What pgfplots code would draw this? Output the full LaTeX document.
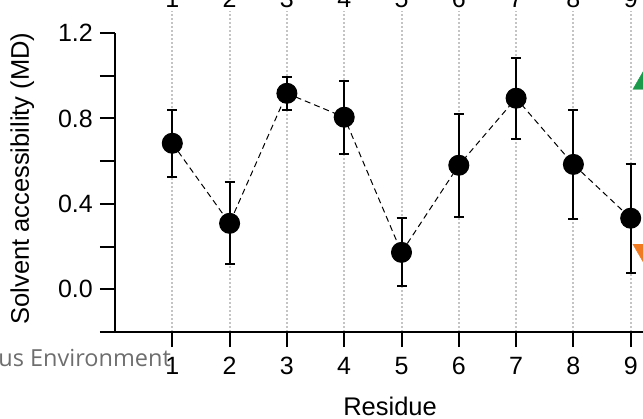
\documentclass[border=0pt]{standalone}
\usepackage{fontspec}
\setmainfont{Liberation Sans}
\newfontfamily\osans{Open Sans}
\usepackage{pgfplots}
\usepackage{pgfplotstable}
\pgfplotsset{compat=1.18}
\definecolor{accgreen}{HTML}{1A9A4A}
\definecolor{accorange}{HTML}{F07A22}
\definecolor{envgray}{HTML}{6E6E6E}
\definecolor{gridgray}{HTML}{C4C4C4}

% residue, mean solvent accessibility, error
\pgfplotstableread{
res val err
1 0.684 0.156
2 0.309 0.192
3 0.918 0.078
4 0.806 0.171
5 0.173 0.159
6 0.581 0.241
7 0.895 0.190
8 0.585 0.255
9 0.333 0.256
}\mddata

\pgfplotsset{
  mdgeom/.style={
    at={(115pt,86pt)}, anchor=south west,
    x=57.3pt, y=213.5pt,
    xmin=0, xmax=10, ymin=-0.2, ymax=1.303,
    clip=false,
    /pgf/number format/assume math mode=true,
    tick label style={font=\fontsize{25}{30}\selectfont},
  }
}

\begin{document}
\begin{tikzpicture}
\useasboundingbox (0,0) rectangle (643pt,418pt);
\clip (0,0) rectangle (643pt,418pt);
\begin{axis}[
  mdgeom,
  axis x line*=bottom, axis y line*=left,
  axis line style={draw=none},
  tick align=outside,
  major tick length=15pt,
  tick style={black, line width=2pt},
  xtick={1,...,9},
  xticklabels={1,2,3,4,5,6,7,8,9},
  ytick={-0.2,0,0.2,0.4,0.6,0.8,1.0,1.2},
  yticklabels={,0.0,,0.4,,0.8,,1.2},
  xmajorgrids,
  major grid style={gridgray, dash pattern=on 2pt off 2pt, line width=2pt},
  xticklabel style={inner sep=0pt, yshift=-10pt},
  yticklabel style={inner sep=0pt, xshift=-7pt},
  xlabel={Residue},
  ylabel={Solvent accessibility (MD)},
  every axis x label/.style={at={(axis description cs:0.48,-0.261)}, anchor=base,
    font=\fontsize{25.5}{30}\selectfont},
  every axis y label/.style={at={(axis description cs:-0.162,0.478)}, rotate=90, anchor=center,
    font=\fontsize{25.5}{30}\selectfont},
]
\draw[black, line width=2pt] (axis cs:0,-0.2) -- (axis cs:0,1.2);
\draw[black, line width=2pt] (axis cs:0,-0.2) -- (axis cs:10,-0.2);
\addplot[black, line width=1pt, dash pattern=on 6pt off 4pt,
  mark=*, mark size=10pt, mark options={solid},
  error bars/.cd, y dir=both, y explicit,
  error bar style={solid, line width=2pt},
  error mark options={rotate=90, mark size=5pt, line width=2pt, solid}]
  table[x=res, y=val, y error=err] {\mddata};
\addplot[only marks, mark=triangle*, mark size=12pt, color=accgreen]
  coordinates {(9.22,0.965)};
\addplot[only marks, mark=triangle*, mark size=12pt, color=accorange, mark options={rotate=180}]
  coordinates {(9.22,0.183)};
\end{axis}
\begin{axis}[
  mdgeom,
  axis line style={draw=none},
  xtick={1,...,9},
  xticklabels={1,2,3,4,5,6,7,8,9},
  xticklabel pos=upper,
  xtick pos=upper,
  major tick length=0pt,
  ytick=\empty,
  xticklabel style={inner sep=0pt, anchor=base, yshift=4pt},
]
\end{axis}
\node[anchor=base east, text=envgray, font=\osans\fontsize{23.5}{28}\selectfont, inner sep=0pt]
  at (171pt,51pt) {Aqueous Environment};
\end{tikzpicture}
\end{document}
